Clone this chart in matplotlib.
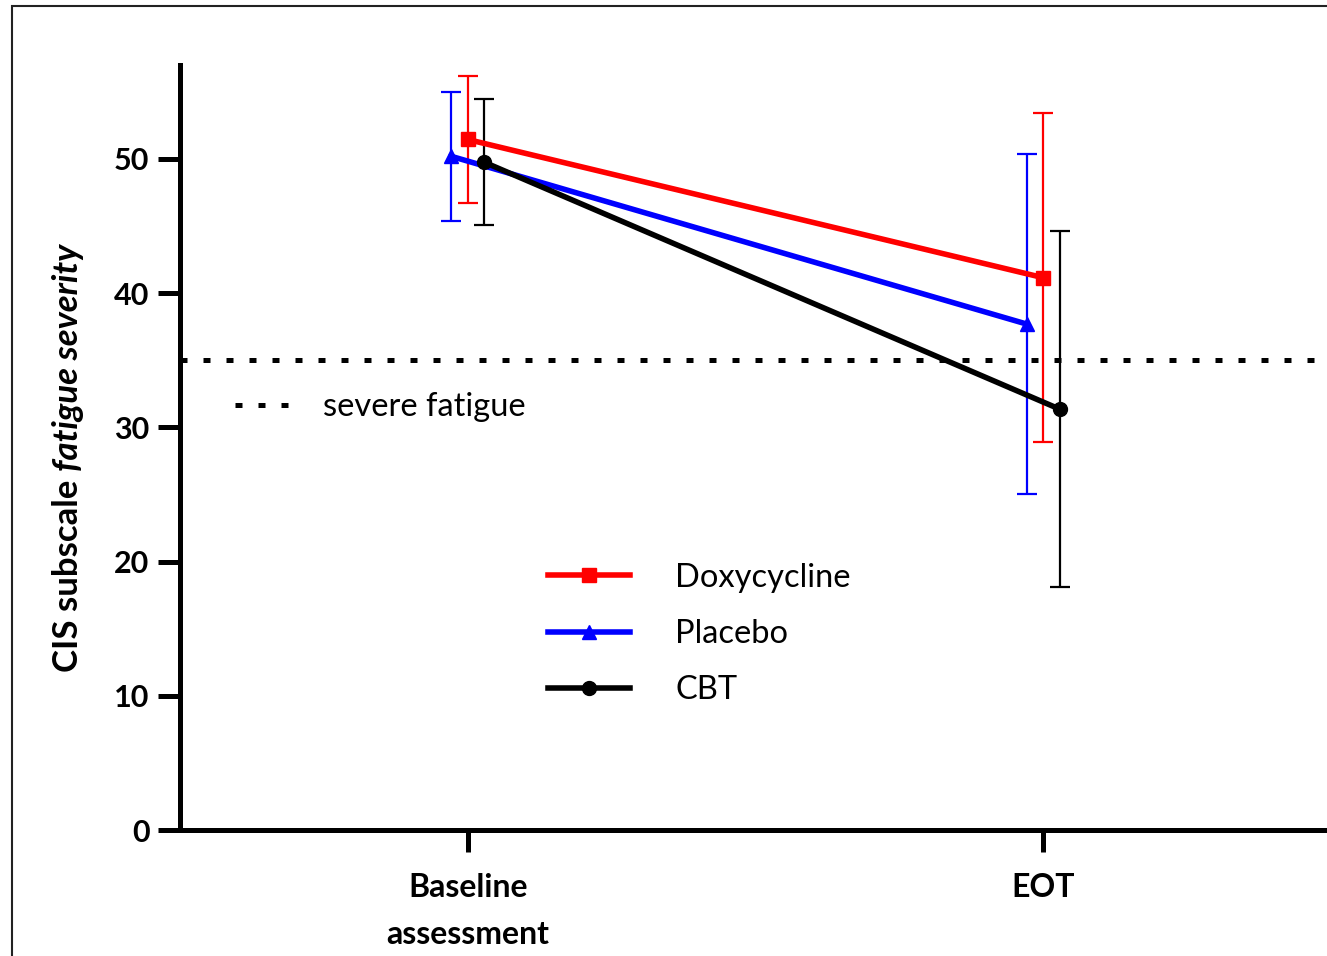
import matplotlib
matplotlib.use('Agg')
import matplotlib.pyplot as plt
from matplotlib.patches import Rectangle
import numpy as np

plt.rcParams['font.family'] = ['Lato', 'DejaVu Sans']

timepoints = ['Baseline\nassessment', 'EOT']
doxy_mean = [51.45, 41.15]
doxy_sd = [4.75, 12.25]
placebo_mean = [50.2, 37.7]
placebo_sd = [4.8, 12.7]
cbt_mean = [49.75, 31.35]
cbt_sd = [4.7, 13.25]
severe_cutoff = 35

series = [
    ('Doxycycline', doxy_mean, doxy_sd, '#ff0000', 's', 0.0),
    ('Placebo', placebo_mean, placebo_sd, '#0000ff', '^', -0.029),
    ('CBT', cbt_mean, cbt_sd, 'black', 'o', 0.029),
]

fig = plt.figure(figsize=(13.27, 9.56), dpi=100)
ax = fig.add_axes([180 / 1327, 1 - 830 / 956, 1151 / 1327, 765 / 956])

x = np.arange(len(timepoints))
handles = []
for name, mean, sd, color, marker, off in series:
    ax.errorbar(x + off, mean, yerr=sd, fmt='none', ecolor=color,
                elinewidth=1.6, capsize=7, capthick=1.6, zorder=2)
    ln, = ax.plot(x + off, mean, color=color, lw=4, marker=marker,
                  markersize=10, label=name, zorder=3)
    handles.append(ln)

sev, = ax.plot([-0.5, 1.5], [severe_cutoff, severe_cutoff], color='black',
               lw=3.6, linestyle=(0, (1.4, 3.2)), zorder=1)

ax.set_xlim(-0.5, 1.5)
ax.set_ylim(0, 57)
ax.set_yticks([0, 10, 20, 30, 40, 50])
ax.set_xticks(x)
ax.set_xticklabels(timepoints, fontsize=23, fontweight='bold', linespacing=1.75)
for lab in ax.get_yticklabels():
    lab.set_fontsize(22)
    lab.set_fontweight('bold')
ax.tick_params(axis='both', length=16, width=3.6, direction='out', pad=6)
ax.tick_params(axis='x', pad=15)

for s in ['top', 'right']:
    ax.spines[s].set_visible(False)
for s in ['left', 'bottom']:
    ax.spines[s].set_linewidth(3.6)

leg1 = ax.legend([sev], ['severe fatigue'], loc='center left',
                 bbox_to_anchor=(235 / 1327, 1 - 407 / 956), bbox_transform=fig.transFigure,
                 frameon=False, fontsize=23.5, handlelength=1.7, handletextpad=1.0,
                 borderpad=0, borderaxespad=0)
ax.add_artist(leg1)
ax.legend(handles, [h.get_label() for h in handles], loc='center left',
          bbox_to_anchor=(548 / 1327, 1 - 634 / 956), bbox_transform=fig.transFigure,
          frameon=False, fontsize=23.5, handlelength=2.5, handletextpad=1.4,
          labelspacing=0.8, borderpad=0, borderaxespad=0)

# y label: regular part bold, "fatigue severity" bold italic
renderer = fig.canvas.get_renderer()
t1 = fig.text(68 / 1327, 1 - 672 / 956, 'CIS subscale ', rotation=90, ha='center', va='bottom',
              fontsize=25, fontweight='bold')
bb = t1.get_window_extent(renderer)
fig.text(68 / 1327, bb.y1 / fig.bbox.height, 'fatigue severity', rotation=90, ha='center',
         va='bottom', fontsize=25, fontweight='bold', fontstyle='italic')

fig.patches.append(Rectangle((12 / 1327, -0.1), 1.2, 1.1 - 6 / 956, transform=fig.transFigure,
                             fill=False, edgecolor='#222222', lw=1.5))

fig.savefig('out.png', dpi=100)
